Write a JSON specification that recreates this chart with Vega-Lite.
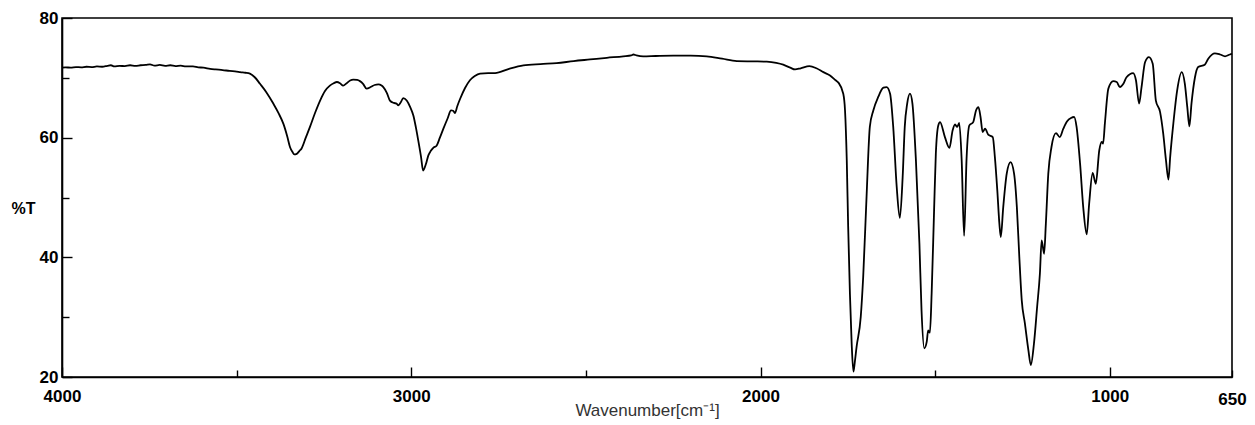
{
  "$schema": "https://vega.github.io/schema/vega-lite/v6.json",
  "width": 1170,
  "height": 359,
  "autosize": {"type": "none"},
  "padding": {"left": 62, "top": 18, "right": 23, "bottom": 48},
  "background": "white",
  "config": {
    "view": {"stroke": "black", "strokeWidth": 1.6},
    "axis": {
      "domainColor": "black",
      "domainWidth": 1.6,
      "tickColor": "black",
      "tickWidth": 1.4,
      "grid": false,
      "labelFont": "Liberation Sans",
      "labelFontWeight": "bold",
      "labelFontSize": 17,
      "labelColor": "black",
      "titleFont": "Liberation Sans"
    }
  },
  "data": {
    "values": [
      {"wn": 4000, "t": 71.7}, {"wn": 3990, "t": 71.75}, {"wn": 3975, "t": 71.7}, {"wn": 3960, "t": 71.8},
      {"wn": 3945, "t": 71.75}, {"wn": 3930, "t": 71.85}, {"wn": 3915, "t": 71.8}, {"wn": 3900, "t": 71.9},
      {"wn": 3885, "t": 71.85}, {"wn": 3870, "t": 72.0}, {"wn": 3860, "t": 72.1}, {"wn": 3850, "t": 71.9},
      {"wn": 3835, "t": 72.0}, {"wn": 3820, "t": 71.95}, {"wn": 3805, "t": 72.1}, {"wn": 3790, "t": 72.0},
      {"wn": 3775, "t": 72.1}, {"wn": 3760, "t": 72.15}, {"wn": 3748, "t": 72.25}, {"wn": 3735, "t": 72.05},
      {"wn": 3720, "t": 72.15}, {"wn": 3705, "t": 72.0}, {"wn": 3690, "t": 72.1}, {"wn": 3675, "t": 71.95},
      {"wn": 3660, "t": 72.05}, {"wn": 3645, "t": 71.9}, {"wn": 3625, "t": 71.9}, {"wn": 3610, "t": 71.75},
      {"wn": 3595, "t": 71.7}, {"wn": 3576, "t": 71.5}, {"wn": 3560, "t": 71.4}, {"wn": 3540, "t": 71.3},
      {"wn": 3520, "t": 71.15}, {"wn": 3500, "t": 71.05}, {"wn": 3490, "t": 70.95}, {"wn": 3475, "t": 70.85},
      {"wn": 3462, "t": 70.7}, {"wn": 3448, "t": 70.1}, {"wn": 3433, "t": 69.0}, {"wn": 3415, "t": 67.6},
      {"wn": 3395, "t": 65.7}, {"wn": 3380, "t": 64.1}, {"wn": 3366, "t": 62.3}, {"wn": 3355, "t": 60.2},
      {"wn": 3347, "t": 58.4}, {"wn": 3340, "t": 57.6}, {"wn": 3335, "t": 57.2}, {"wn": 3328, "t": 57.3},
      {"wn": 3320, "t": 57.8}, {"wn": 3314, "t": 58.2}, {"wn": 3302, "t": 60.0}, {"wn": 3290, "t": 61.8},
      {"wn": 3275, "t": 64.2}, {"wn": 3261, "t": 66.2}, {"wn": 3247, "t": 67.8}, {"wn": 3233, "t": 68.7},
      {"wn": 3222, "t": 69.1}, {"wn": 3213, "t": 69.3}, {"wn": 3204, "t": 69.1}, {"wn": 3195, "t": 68.7},
      {"wn": 3185, "t": 69.1}, {"wn": 3175, "t": 69.55}, {"wn": 3166, "t": 69.7}, {"wn": 3155, "t": 69.65},
      {"wn": 3147, "t": 69.45}, {"wn": 3138, "t": 69.0}, {"wn": 3128, "t": 68.2}, {"wn": 3115, "t": 68.5},
      {"wn": 3105, "t": 68.8}, {"wn": 3094, "t": 68.9}, {"wn": 3085, "t": 68.7}, {"wn": 3080, "t": 68.45},
      {"wn": 3070, "t": 67.5}, {"wn": 3061, "t": 66.2}, {"wn": 3050, "t": 65.8}, {"wn": 3042, "t": 65.7},
      {"wn": 3037, "t": 65.4}, {"wn": 3030, "t": 65.9}, {"wn": 3023, "t": 66.6}, {"wn": 3013, "t": 66.2},
      {"wn": 3003, "t": 65.1}, {"wn": 2994, "t": 63.7}, {"wn": 2987, "t": 61.8}, {"wn": 2980, "t": 59.55},
      {"wn": 2972, "t": 56.8}, {"wn": 2966, "t": 54.5}, {"wn": 2958, "t": 55.6}, {"wn": 2951, "t": 57.05},
      {"wn": 2944, "t": 57.8}, {"wn": 2937, "t": 58.3}, {"wn": 2927, "t": 58.7}, {"wn": 2918, "t": 60.0},
      {"wn": 2908, "t": 61.5}, {"wn": 2896, "t": 63.2}, {"wn": 2886, "t": 64.55}, {"wn": 2880, "t": 64.5},
      {"wn": 2875, "t": 64.1}, {"wn": 2868, "t": 65.3}, {"wn": 2860, "t": 66.5}, {"wn": 2846, "t": 68.3},
      {"wn": 2832, "t": 69.6}, {"wn": 2818, "t": 70.3}, {"wn": 2803, "t": 70.7}, {"wn": 2780, "t": 70.8},
      {"wn": 2760, "t": 70.8}, {"wn": 2720, "t": 71.5}, {"wn": 2679, "t": 72.07}, {"wn": 2630, "t": 72.3},
      {"wn": 2584, "t": 72.45}, {"wn": 2535, "t": 72.8}, {"wn": 2488, "t": 73.07}, {"wn": 2440, "t": 73.35},
      {"wn": 2393, "t": 73.6}, {"wn": 2370, "t": 73.75}, {"wn": 2364, "t": 73.9}, {"wn": 2355, "t": 73.75},
      {"wn": 2336, "t": 73.6}, {"wn": 2300, "t": 73.65}, {"wn": 2250, "t": 73.7}, {"wn": 2200, "t": 73.7},
      {"wn": 2154, "t": 73.6}, {"wn": 2110, "t": 73.2}, {"wn": 2068, "t": 72.8}, {"wn": 2020, "t": 72.75},
      {"wn": 1982, "t": 72.7}, {"wn": 1955, "t": 72.5}, {"wn": 1935, "t": 72.2}, {"wn": 1915, "t": 71.7},
      {"wn": 1901, "t": 71.4}, {"wn": 1885, "t": 71.6}, {"wn": 1860, "t": 71.95}, {"wn": 1840, "t": 71.6},
      {"wn": 1820, "t": 70.95}, {"wn": 1801, "t": 70.4}, {"wn": 1785, "t": 69.6}, {"wn": 1777, "t": 69.2},
      {"wn": 1763, "t": 67.35}, {"wn": 1758, "t": 64.55}, {"wn": 1753, "t": 56.2}, {"wn": 1749, "t": 45.1},
      {"wn": 1744, "t": 33.95}, {"wn": 1739, "t": 25.6}, {"wn": 1734, "t": 20.9}, {"wn": 1730, "t": 22.5},
      {"wn": 1725, "t": 25.0}, {"wn": 1713, "t": 30.05}, {"wn": 1706, "t": 36.7}, {"wn": 1696, "t": 50.65},
      {"wn": 1687, "t": 61.8}, {"wn": 1677, "t": 64.55}, {"wn": 1663, "t": 66.8}, {"wn": 1648, "t": 68.35},
      {"wn": 1639, "t": 68.45}, {"wn": 1629, "t": 67.35}, {"wn": 1620, "t": 61.8}, {"wn": 1610, "t": 51.75},
      {"wn": 1601, "t": 46.6}, {"wn": 1593, "t": 53.4}, {"wn": 1587, "t": 61.8}, {"wn": 1580, "t": 65.7},
      {"wn": 1572, "t": 67.35}, {"wn": 1565, "t": 65.7}, {"wn": 1555, "t": 56.2}, {"wn": 1545, "t": 42.3},
      {"wn": 1539, "t": 31.2}, {"wn": 1531, "t": 24.8}, {"wn": 1524, "t": 25.9}, {"wn": 1520, "t": 27.8},
      {"wn": 1515, "t": 27.4}, {"wn": 1510, "t": 33.95}, {"wn": 1503, "t": 47.85}, {"wn": 1498, "t": 57.3},
      {"wn": 1491, "t": 62.05}, {"wn": 1486, "t": 62.6}, {"wn": 1472, "t": 60.1}, {"wn": 1459, "t": 58.3},
      {"wn": 1450, "t": 61.2}, {"wn": 1443, "t": 62.2}, {"wn": 1437, "t": 61.8}, {"wn": 1431, "t": 62.45},
      {"wn": 1424, "t": 56.2}, {"wn": 1417, "t": 43.6}, {"wn": 1410, "t": 56.5}, {"wn": 1402, "t": 62.05},
      {"wn": 1391, "t": 62.6}, {"wn": 1383, "t": 64.55}, {"wn": 1376, "t": 65.1}, {"wn": 1370, "t": 63.45},
      {"wn": 1364, "t": 60.95}, {"wn": 1357, "t": 61.5}, {"wn": 1348, "t": 60.5}, {"wn": 1335, "t": 60.1},
      {"wn": 1329, "t": 56.8}, {"wn": 1322, "t": 51.2}, {"wn": 1316, "t": 45.6}, {"wn": 1312, "t": 43.4},
      {"wn": 1305, "t": 48.4}, {"wn": 1295, "t": 54.0}, {"wn": 1284, "t": 55.9}, {"wn": 1274, "t": 54.0},
      {"wn": 1266, "t": 48.4}, {"wn": 1259, "t": 40.1}, {"wn": 1252, "t": 32.8}, {"wn": 1243, "t": 28.95},
      {"wn": 1233, "t": 24.5}, {"wn": 1226, "t": 22.0}, {"wn": 1217, "t": 25.6}, {"wn": 1208, "t": 31.7},
      {"wn": 1200, "t": 37.3}, {"wn": 1195, "t": 42.85}, {"wn": 1188, "t": 40.6}, {"wn": 1183, "t": 45.6},
      {"wn": 1176, "t": 54.0}, {"wn": 1167, "t": 58.4}, {"wn": 1154, "t": 60.75}, {"wn": 1143, "t": 60.1},
      {"wn": 1133, "t": 61.5}, {"wn": 1122, "t": 62.75}, {"wn": 1111, "t": 63.3}, {"wn": 1102, "t": 63.45},
      {"wn": 1095, "t": 61.8}, {"wn": 1085, "t": 55.65}, {"wn": 1076, "t": 48.4}, {"wn": 1066, "t": 43.85},
      {"wn": 1059, "t": 48.95}, {"wn": 1049, "t": 54.1}, {"wn": 1040, "t": 52.3}, {"wn": 1030, "t": 57.9},
      {"wn": 1023, "t": 59.3}, {"wn": 1019, "t": 59.0}, {"wn": 1014, "t": 62.35}, {"wn": 1004, "t": 68.2},
      {"wn": 990, "t": 69.45}, {"wn": 980, "t": 69.3}, {"wn": 971, "t": 68.45}, {"wn": 961, "t": 69.0},
      {"wn": 952, "t": 70.1}, {"wn": 933, "t": 70.8}, {"wn": 925, "t": 69.6}, {"wn": 916, "t": 65.7},
      {"wn": 909, "t": 68.45}, {"wn": 899, "t": 72.6}, {"wn": 888, "t": 73.45}, {"wn": 877, "t": 72.35},
      {"wn": 868, "t": 66.2}, {"wn": 856, "t": 64.3}, {"wn": 847, "t": 60.7}, {"wn": 839, "t": 56.2},
      {"wn": 832, "t": 53.0}, {"wn": 827, "t": 56.8}, {"wn": 818, "t": 62.35}, {"wn": 807, "t": 67.9},
      {"wn": 794, "t": 70.95}, {"wn": 785, "t": 69.0}, {"wn": 778, "t": 65.1}, {"wn": 772, "t": 61.9},
      {"wn": 766, "t": 65.7}, {"wn": 756, "t": 70.1}, {"wn": 747, "t": 71.8}, {"wn": 728, "t": 72.2},
      {"wn": 718, "t": 73.2}, {"wn": 699, "t": 74.1}, {"wn": 684, "t": 73.9}, {"wn": 670, "t": 73.6},
      {"wn": 656, "t": 73.9}, {"wn": 650, "t": 74.0}
    ]
  },
  "mark": {"type": "line", "color": "black", "strokeWidth": 1.8, "interpolate": "monotone"},
  "encoding": {
    "x": {
      "field": "wn",
      "type": "quantitative",
      "scale": {"domain": [650, 4000], "reverse": true, "nice": false, "zero": false},
      "axis": {
        "values": [4000, 3500, 3000, 2500, 2000, 1500, 1000, 650],
        "labelExpr": "(datum.value % 1000 === 0 || datum.value === 650) ? format(datum.value, 'd') : ''",
        "tickSize": {"condition": {"test": "datum.value % 1000 === 0", "value": -10}, "value": -7},
        "labelPadding": 21,
        "labelFlush": false,
        "labelOverlap": false,
        "title": "Wavenumber[cm⁻¹]",
        "titleFontWeight": "normal",
        "titleFontSize": 17,
        "titleColor": "#333333",
        "titleBaseline": "alphabetic",
        "titleY": 38
      }
    },
    "y": {
      "field": "t",
      "type": "quantitative",
      "scale": {"domain": [20, 80], "nice": false, "zero": false},
      "axis": {
        "values": [20, 30, 40, 50, 60, 70, 80],
        "labelExpr": "datum.value % 20 === 0 ? format(datum.value, 'd') : ''",
        "tickSize": {"condition": {"test": "datum.value % 20 === 0", "value": -10}, "value": -7},
        "labelPadding": 14,
        "labelFlush": false,
        "labelOverlap": false,
        "title": "%T",
        "titleAngle": 0,
        "titleFontWeight": "bold",
        "titleFontSize": 16,
        "titleColor": "black",
        "titleAlign": "center",
        "titleBaseline": "middle",
        "titleX": -39,
        "titleY": 190
      }
    }
  }
}
